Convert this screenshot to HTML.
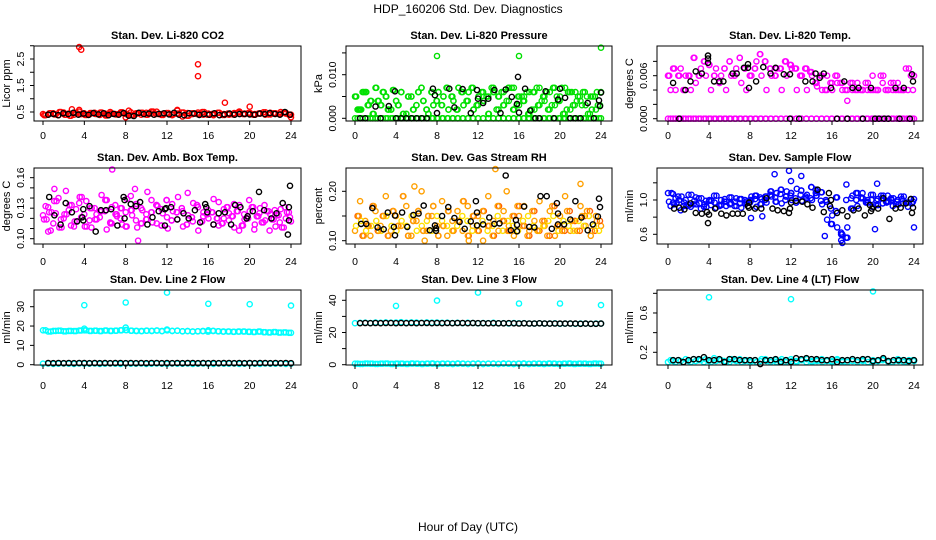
<!DOCTYPE html>
<html><head><meta charset="utf-8">
<style>
body{margin:0;background:#fff;}
svg{display:block;font-family:"Liberation Sans",sans-serif;}
</style></head>
<body>
<svg id="chart" width="936" height="540" viewBox="0 0 936 540">
<rect width="936" height="540" fill="#fff"/>
<text x="468" y="13" text-anchor="middle" font-size="12">HDP_160206  Std. Dev. Diagnostics</text>
<text x="468" y="531" text-anchor="middle" font-size="12">Hour of Day (UTC)</text>
<g id="panels"></g>
</svg>
<script>
// ---- data ----
const hourTicks = [0,4,8,12,16,20,24];
// CO2 (Licor ppm)
const co2Red = [0.42,0.40,0.45,0.38,0.48,0.44,0.40,0.52,0.45,0.41,0.47,0.39,0.44,0.50,0.42,0.46,0.30,0.49,0.43,0.40,0.47,0.44,0.51,0.42,0.45,0.38,0.55,0.33,0.46,0.42,0.48,0.40,0.44,0.38,0.47,0.42,0.40,0.46,0.52,0.44,0.45,0.42,0.45,0.40,0.47,0.43,0.50,0.44,0.30];
const co2Red2 = [0.38,0.45,0.41,0.50,0.40,0.36,0.47,0.42,0.39,0.46,0.43,0.48,0.37,0.44,0.41,0.49,0.42,0.38,0.45,0.47,0.40,0.52,0.43,0.39,0.46,0.41,0.44,0.48,0.36,0.45,0.42,0.50,0.40,0.43,0.47,0.39,0.44,0.41,0.48,0.42,0.46,0.40,0.44,0.49,0.41,0.45,0.43,0.47,0.40];
const co2OutX = [3.5,3.7,15,15,17.6,20,2.8,13,8.3,3.5];
const co2OutY = [2.95,2.85,2.3,1.85,0.85,0.7,0.6,0.58,0.55,0.58];
const co2Blk = [0.40,0.43,0.38,0.45,0.42,0.47,0.40,0.44,0.39,0.46,0.41,0.45,0.38,0.43,0.40,0.46,0.36,0.35,0.47,0.42,0.44,0.40,0.43,0.45,0.41,0.47,0.40,0.38,0.45,0.44,0.39,0.43,0.40,0.45,0.38,0.41,0.44,0.40,0.42,0.43,0.41,0.40,0.44,0.42,0.46,0.43,0.40,0.50,0.40];
// Pressure (kPa)
const presGreen = [0.005,0.002,0.006,0.004,0.007,0.003,0.005,0.002,0.004,0.006,0.001,0.005,0.003,0.007,0.002,0.006,0.004,0.003,0.007,0.005,0.002,0.006,0.004,0.007,0.003,0.006,0.005,0.007,0.002,0.006,0.004,0.007,0.003,0.005,0.006,0.002,0.007,0.004,0.006,0.003,0.005,0.007,0.002,0.006,0.004,0.003,0.005,0.002,0.006];
const presGreen2 = [0.002,0.006,0.003,0.001,0.004,0.006,0.002,0.0065,0.003,0.001,0.005,0.002,0.006,0.004,0.001,0.003,0.006,0.005,0.002,0.004,0.007,0.003,0.006,0.002,0.005,0.004,0.001,0.006,0.005,0.003,0.007,0.002,0.005,0.004,0.001,0.006,0.003,0.005,0.002,0.007,0.004,0.001,0.006,0.003,0.005,0.006,0.001,0.005,0.003];
const presZero = [0,0,0,0,0,0,0,0,0,0,0,0,0,0,0,0,0,0,0,0,0,0,0,0,0,0,0,0,0,0,0,0,0,0,0,0,0,0,0,0,0,0,0,0,0,0,0,0,0];
const presOutX = [8,16,24];
const presOutY = [0.0143,0.0143,0.0162];
const presBlkX = [0.5,1,2,2.5,3.3,3.9,4,4.5,5,5.5,6,6.5,7,7.6,7.8,8,9.2,9.7,10.5,11.3,11.9,12,12.5,13,13.6,14.2,14.7,15.3,15.8,15.9,16,16.6,17.1,17.6,18,18.6,19.4,19.8,20,20.5,21,21.5,22,22.7,23.3,23.8,23.9,24];
const presBlkY = [0,0,0.0027,0,0.0028,0.0062,0,0,0,0,0,0,0,0.0068,0.0053,0.0012,0.0068,0.0025,0.0067,0.0012,0.0065,0.0045,0.0035,0.0045,0.0065,0.0012,0.0066,0.0049,0.0033,0.0095,0.0013,0.0068,0.0018,0,0,0.0062,0,0.0043,0.0068,0.0047,0,0,0,0.0035,0,0.0041,0.0028,0.0059];
// Li-820 Temp (degrees C)
const tempMag = [0.006,0.007,0.006,0.004,0.006,0.0085,0.006,0.008,0.0075,0.006,0.005,0.007,0.008,0.006,0.0085,0.007,0.006,0.007,0.009,0.008,0.007,0.006,0.007,0.008,0.0075,0.007,0.006,0.007,0.0065,0.005,0.006,0.004,0.005,0.006,0.005,0.004,0.005,0.004,0.004,0.005,0.004,0.004,0.006,0.004,0.005,0.004,0.004,0.007,0.006];
const tempMag2 = [0.004,0.004,0.007,0.006,0.004,0.005,0.007,0.006,0.004,0.007,0.006,0.004,0.006,0.007,0.005,0.004,0.006,0.008,0.006,0.004,0.006,0.007,0.004,0.006,0.007,0.004,0.006,0.004,0.006,0.0045,0.004,0.006,0.004,0.005,0.004,0.0025,0.004,0.005,0.004,0.004,0.006,0.004,0.005,0.004,0.004,0.005,0.004,0.004,0.004];
const tempZero = [0,0,0,0,0,0,0,0,0,0,0,0,0,0,0,0,0,0,0,0,0,0,0,0,0,0,0,0,0,0,0,0,0,0,0,0,0,0,0,0,0,0,0,0,0,0,0,0,0];
const tempBlkX = [0.5,1.1,1.7,2.7,2.2,3.3,3.9,3.9,3.9,4.5,5.0,5.4,6.3,6.7,7.4,7.8,7.9,7.8,8.6,9.3,10.0,10.5,11.3,11.9,11.9,12.8,13.4,14.1,14.4,14.8,15.2,15.9,16.5,17.2,17.5,18.0,18.6,19.0,19.8,20.2,20.6,21.1,21.5,22.2,22.6,23.0,23.6,23.9,23.8];
const tempBlkY = [0.005,0,0.004,0.0066,0.0052,0.0063,0.0088,0.0084,0.0078,0.0052,0.0052,0.0052,0.0063,0.0063,0.0071,0.0076,0.0043,0.0071,0.0052,0.0072,0.0063,0.0071,0.0062,0,0.0062,0,0.0052,0.0052,0.0063,0.0057,0.0063,0.0043,0,0.0052,0,0.0043,0.0043,0,0.0043,0,0,0,0,0.0043,0,0.0043,0,0.0052,0.0062];
// Amb box temp
const ambMag = [0.123,0.131,0.115,0.14,0.12,0.128,0.112,0.135,0.124,0.118,0.13,0.121,0.127,0.116,0.133,0.12,0.126,0.142,0.118,0.13,0.124,0.138,0.115,0.129,0.121,0.134,0.119,0.127,0.145,0.117,0.131,0.122,0.128,0.114,0.136,0.12,0.125,0.111,0.133,0.119,0.127,0.114,0.13,0.118,0.124,0.112,0.129,0.12,0.117];
const ambMag2 = [0.132,0.108,0.125,0.119,0.147,0.113,0.129,0.121,0.137,0.111,0.124,0.143,0.109,0.131,0.122,0.114,0.139,0.123,0.111,0.128,0.146,0.116,0.132,0.125,0.11,0.127,0.141,0.112,0.123,0.135,0.108,0.126,0.12,0.139,0.113,0.129,0.118,0.134,0.108,0.124,0.138,0.109,0.125,0.133,0.108,0.128,0.116,0.131,0.121];
const ambMag3 = [0.119,0.126,0.137,0.111,0.124,0.133,0.117,0.141,0.112,0.13,0.119,0.127,0.138,0.115,0.124,0.13,0.112,0.128,0.134,0.115,0.119,0.126,0.133,0.113,0.138,0.118,0.126,0.13,0.114,0.121,0.133,0.117,0.124,0.126,0.12,0.115,0.131,0.122,0.127,0.113,0.12,0.131,0.122,0.116,0.127,0.119,0.123,0.111,0.126];
const ambOutX = [6.7,9.2,1.1,8.9,0.5];
const ambOutY = [0.168,0.098,0.149,0.149,0.107];
const ambBlkX = [0.6,1.1,1.7,2.2,2.8,3.3,3.8,3.9,3.9,4.5,5.1,5.6,6.1,6.6,7.2,7.8,7.9,7.9,8.5,9.0,9.4,10.1,10.6,11.2,11.8,11.8,11.9,12.4,13.0,13.6,14.1,14.7,15.2,15.7,15.8,15.9,16.5,17.0,17.6,18.2,18.6,19.1,19.7,19.8,20.3,20.9,21.4,22.1,22.6,23.2,23.7,23.8,23.8,23.9];
const ambBlkY = [0.141,0.123,0.114,0.135,0.126,0.117,0.121,0.118,0.129,0.132,0.107,0.128,0.128,0.129,0.113,0.141,0.138,0.12,0.134,0.132,0.136,0.114,0.121,0.127,0.113,0.129,0.13,0.131,0.119,0.125,0.12,0.128,0.116,0.134,0.131,0.126,0.114,0.125,0.126,0.114,0.133,0.131,0.12,0.122,0.127,0.146,0.128,0.12,0.125,0.135,0.104,0.131,0.118,0.152];
// Gas stream RH
const rhOrg = [0.12,0.18,0.14,0.11,0.16,0.13,0.19,0.12,0.15,0.13,0.17,0.11,0.14,0.2,0.12,0.15,0.13,0.18,0.11,0.14,0.16,0.12,0.17,0.13,0.15,0.1,0.19,0.14,0.12,0.16,0.13,0.11,0.15,0.17,0.12,0.14,0.18,0.13,0.16,0.11,0.15,0.19,0.12,0.14,0.17,0.13,0.11,0.15,0.13];
const rhOrg2 = [0.15,0.11,0.13,0.17,0.12,0.15,0.11,0.16,0.13,0.19,0.11,0.14,0.16,0.12,0.15,0.17,0.11,0.13,0.16,0.12,0.14,0.18,0.11,0.15,0.12,0.16,0.13,0.11,0.17,0.14,0.12,0.15,0.17,0.13,0.11,0.16,0.12,0.14,0.11,0.17,0.13,0.12,0.16,0.14,0.12,0.15,0.16,0.12,0.14];
const rhOrg3 = [0.13,0.14,0.12,0.13,0.14,0.12,0.15,0.13,0.12,0.14,0.13,0.15,0.12,0.13,0.14,0.12,0.15,0.14,0.13,0.12,0.13,0.15,0.14,0.12,0.13,0.14,0.12,0.13,0.15,0.12,0.14,0.13,0.12,0.14,0.15,0.13,0.12,0.13,0.14,0.15,0.12,0.14,0.13,0.12,0.14,0.13,0.15,0.13,0.12];
const rhOutX = [13.7,5.8,22,11.1,6.8,14.8];
const rhOutY = [0.245,0.21,0.215,0.1,0.1,0.2];
const rhBlkX = [0.6,1.1,1.7,2.2,2.8,3.2,3.8,3.9,3.9,4.6,5.1,5.7,6.2,6.7,7.3,7.8,7.9,7.9,8.5,9.1,9.7,10.2,10.7,11.3,11.8,11.9,11.9,12.5,13.1,13.6,14.1,14.7,15.2,15.7,15.8,15.8,16.5,17.0,17.5,18.1,18.7,19.2,19.7,19.8,19.8,20.4,21.0,21.5,22.1,22.7,23.2,23.7,23.8,23.9];
const rhBlkY = [0.134,0.134,0.166,0.127,0.123,0.157,0.128,0.151,0.111,0.157,0.128,0.152,0.155,0.171,0.121,0.131,0.125,0.12,0.15,0.168,0.146,0.138,0.124,0.139,0.18,0.157,0.131,0.133,0.147,0.134,0.135,0.232,0.121,0.142,0.119,0.132,0.169,0.128,0.127,0.19,0.19,0.124,0.176,0.155,0.133,0.133,0.143,0.18,0.147,0.121,0.133,0.149,0.185,0.168];
// Sample flow
const flowBlue = [1.08,0.97,1.04,0.93,1.06,0.95,1.02,0.92,0.99,1.05,0.94,0.98,1.03,0.93,1.01,0.96,1.0,1.05,0.95,1.04,1.1,0.98,1.12,1.04,1.08,0.97,1.11,1.02,1.15,1.05,1.09,0.98,0.72,1.03,0.6,0.56,0.9,1.08,1.02,0.97,1.06,0.94,1.05,0.98,1.02,0.95,1.04,0.97,1.01];
const flowBlue2 = [0.93,1.02,0.88,1.0,0.92,1.03,0.9,0.99,0.94,0.91,1.0,0.93,0.96,1.02,0.91,0.98,1.04,0.92,1.01,0.97,1.04,1.08,0.96,1.1,1.0,1.13,0.99,1.06,1.0,1.1,0.95,0.77,0.82,0.68,0.5,0.68,1.05,0.93,1.08,1.0,0.92,1.01,0.96,1.05,0.93,1.0,0.96,0.92,0.98];
const flowBlue3 = [0.98,0.95,1.0,0.97,0.94,0.99,0.96,0.95,1.0,0.97,0.93,1.01,0.95,0.98,0.96,1.0,0.97,1.01,1.03,1.0,1.06,1.03,1.07,1.0,1.05,1.02,1.06,1.04,1.02,1.08,0.99,1.0,0.9,0.87,0.62,1.0,1.02,1.0,1.03,0.98,1.0,0.99,1.02,0.97,1.0,0.98,1.01,0.97,0.96];
const flowOutX = [0.5,11.8,10.4,12.0,13.0,14.4,16.9,17.4,20.4,24,8.1,9.2,20.2,15.3];
const flowOutY = [1.07,1.34,1.3,1.22,1.28,1.12,0.53,1.18,1.19,0.68,0.79,0.81,0.66,0.58];
const flowBlkX = [0.6,1.1,1.6,2.2,2.7,3.3,3.8,3.9,4.0,4.6,5.2,5.7,6.3,6.8,7.3,7.8,7.9,7.9,8.5,9.1,9.6,10.2,10.7,11.3,11.8,11.9,12.0,12.5,13.1,13.6,14.1,14.6,15.2,15.7,15.8,15.9,16.5,17.0,17.5,18.1,18.6,19.2,19.7,19.8,19.9,20.5,21.0,21.6,22.2,22.7,23.2,23.7,23.8,23.9];
const flowBlkY = [0.9,0.91,0.89,0.96,0.85,0.84,0.86,0.73,0.83,0.9,0.84,0.82,0.84,0.84,0.84,0.93,0.91,0.97,0.9,0.9,1.02,0.9,0.88,0.87,0.85,0.9,0.97,0.99,0.98,0.95,0.91,1.12,0.86,1.08,0.93,1.0,0.85,0.88,0.81,0.88,0.9,0.82,0.94,0.87,0.9,0.9,1.02,0.78,0.9,0.91,0.96,1.01,0.85,0.91];
// Line 2 flow
const l2Cyan = [17.8,17.2,17.5,17.6,17.3,17.5,17.4,17.7,17.8,17.5,17.6,17.4,17.7,17.5,17.6,17.8,17.9,17.6,17.5,17.4,17.6,17.5,17.7,17.4,17.8,17.5,17.6,17.3,17.4,17.2,17.3,17.4,17.2,17.5,17.3,17.1,17.2,17.0,17.1,17.2,17.0,16.9,17.1,16.8,16.7,16.9,16.6,16.7,16.5];
const l2Zero = [0.5,0.6,0.4,0.5,0.6,0.5,0.4,0.6,0.5,0.5,0.6,0.4,0.5,0.6,0.5,0.4,0.6,0.5,0.5,0.6,0.4,0.5,0.6,0.5,0.4,0.6,0.5,0.5,0.6,0.4,0.5,0.6,0.5,0.4,0.6,0.5,0.5,0.6,0.4,0.5,0.6,0.5,0.4,0.6,0.5,0.5,0.6,0.4,0.5];
const l2OutX = [4,8,12,16,20,24,4,8,12,16];
const l2OutY = [30.8,32.2,37.3,31.5,31.3,30.6,18.6,19.2,18.2,17.8];
const l2Blk = [0.9,0.8,0.9,0.8,0.9,0.8,0.9,0.9,0.8,0.9,0.8,0.9,0.8,0.9,0.9,0.8,0.9,0.8,0.9,0.8,0.9,0.9,0.8,0.9,0.8,0.9,0.8,0.9,0.9,0.8,0.9,0.8,0.9,0.8,0.9,0.9,0.8,0.9,0.8,0.9,0.8,0.9,0.9,0.8,0.9,0.8,0.9,0.8];
// Line 3 flow
const l3Cyan = [25.8,26.0,26.1,25.9,26.2,26.0,26.3,26.1,26.2,26.4,26.1,26.3,26.2,26.0,26.3,26.1,26.2,26.0,26.1,25.9,26.0,25.8,26.0,25.9,25.7,25.9,25.8,26.0,25.7,25.8,25.6,25.9,25.7,25.8,25.6,25.5,25.7,25.6,25.5,25.7,25.4,25.6,25.5,25.4,25.6,25.5,25.4,25.6,25.5];
const l3Zero = [0.6,0.5,0.7,0.6,0.5,0.6,0.7,0.5,0.6,0.6,0.5,0.7,0.6,0.5,0.6,0.7,0.5,0.6,0.6,0.5,0.7,0.6,0.5,0.6,0.7,0.5,0.6,0.6,0.5,0.7,0.6,0.5,0.6,0.7,0.5,0.6,0.6,0.5,0.7,0.6,0.5,0.6,0.7,0.5,0.6,0.6,0.5,0.7,0.6];
const l3OutX = [4,8,12,16,20,24];
const l3OutY = [36.5,39.8,44.8,38.0,38.0,37.0];
const l3Blk = [25.8,25.9,25.8,25.9,25.8,25.9,25.9,25.8,25.9,25.8,25.9,25.8,25.9,25.9,25.8,25.9,25.8,25.9,25.8,25.9,25.9,25.8,25.9,25.8,25.8,25.7,25.8,25.7,25.7,25.8,25.7,25.6,25.7,25.6,25.6,25.7,25.6,25.5,25.6,25.5,25.5,25.6,25.5,25.4,25.5,25.4,25.4,25.5];
// Line 4 flow
const l4Cyan = [0.1,0.11,0.12,0.1,0.11,0.13,0.12,0.1,0.11,0.14,0.12,0.11,0.1,0.12,0.13,0.11,0.1,0.12,0.11,0.13,0.1,0.12,0.11,0.1,0.13,0.11,0.12,0.1,0.11,0.12,0.13,0.11,0.1,0.12,0.11,0.1,0.13,0.12,0.11,0.1,0.12,0.11,0.13,0.1,0.12,0.11,0.1,0.12,0.11];
const l4Cyan2 = [0.12,0.1,0.11,0.13,0.1,0.11,0.12,0.13,0.1,0.11,0.12,0.1,0.13,0.11,0.1,0.12,0.11,0.1,0.13,0.11,0.12,0.1,0.13,0.12,0.11,0.1,0.12,0.13,0.1,0.11,0.1,0.12,0.11,0.13,0.1,0.12,0.11,0.1,0.12,0.13,0.1,0.11,0.12,0.11,0.1,0.13,0.12,0.1,0.12];
const l4OutX = [4,12,20];
const l4OutY = [0.76,0.74,0.82];
const l4Blk = [0.12,0.12,0.1,0.12,0.13,0.13,0.15,0.12,0.12,0.13,0.1,0.13,0.13,0.12,0.12,0.12,0.12,0.08,0.12,0.12,0.13,0.1,0.12,0.1,0.14,0.13,0.14,0.13,0.13,0.12,0.12,0.13,0.1,0.12,0.12,0.13,0.12,0.13,0.13,0.11,0.12,0.14,0.11,0.12,0.12,0.12,0.11,0.12];

// ---- layout / styles (not data) ----
const BLUE='#0000ff', RED='#ff0000', BLK='#000000', GRN='#00e000', MAG='#ff00ff', CYN='#00ffff', ORG='#ffa000', ORG2='#ff6000', YEL='#ffe000';
function gridX(arr, x0, x1){ // hours for a regularly sampled series
  const n = arr.length; return arr.map((_, i) => x0 + (x1 - x0) * i / (n - 1));
}
const panels = [
 {name:'co2', title:'Stan. Dev. Li-820 CO2', ytitle:'Licor ppm', box:[34,46,301,121], xr:[43,291], vRef:0.5, yRef:112, ppu:26.5,
  ticks:[0.5,1,1.5,2,2.5,3], labels:[0.5,1.5,2.5], fmt:v=>v.toFixed(1), lblY:139,
  series:[{x:gridX(co2Red,0,24),y:co2Red,c:RED},{x:gridX(co2Red2,0.25,24),y:co2Red2,c:RED},{x:gridX(co2Red2,0.12,23.8),y:co2Red2,c:RED},{x:co2OutX,y:co2OutY,c:RED},{x:gridX(co2Blk,0.5,23.9),y:co2Blk,c:BLK}]},
 {name:'pressure', title:'Stan. Dev. Li-820 Pressure', ytitle:'kPa', box:[346,46,612,121], xr:[355,601], vRef:0, yRef:118.3, ppu:4360,
  ticks:[0,0.005,0.01,0.015], labels:[0,0.01], fmt:v=>v.toFixed(3), lblY:139,
  series:[{x:gridX(presZero,0,24),y:presZero,c:GRN},{x:gridX(presZero,0.25,23.8),y:presZero,c:GRN},{x:gridX(presGreen,0,24),y:presGreen,c:GRN},{x:gridX(presGreen2,0.25,23.9),y:presGreen2,c:GRN},{x:gridX(presGreen,0.37,23.7),y:presGreen2,c:GRN},{x:gridX(presGreen2,0.12,23.6),y:presGreen,c:GRN},{x:presOutX,y:presOutY,c:GRN},{x:presBlkX,y:presBlkY,c:BLK}]},
 {name:'li820-temp', title:'Stan. Dev. Li-820 Temp.', ytitle:'degrees C', box:[657,46,923,121], xr:[668,914], vRef:0, yRef:118.7, ppu:7167,
  ticks:[0,0.002,0.004,0.006,0.008], labels:[0,0.006], fmt:v=>v.toFixed(3), lblY:139,
  series:[{x:gridX(tempZero,0,24),y:tempZero,c:MAG},{x:gridX(tempZero,0.25,23.8),y:tempZero,c:MAG},{x:gridX(tempMag,0,24),y:tempMag,c:MAG},{x:gridX(tempMag2,0.25,23.9),y:tempMag2,c:MAG},{x:gridX(tempMag2,0.12,23.7),y:tempMag,c:MAG},{x:tempBlkX,y:tempBlkY,c:BLK}]},
 {name:'amb-box-temp', title:'Stan. Dev. Amb. Box Temp.', ytitle:'degrees C', box:[34,168,301,244], xr:[43,291], vRef:0.10, yRef:238.7, ppu:1017,
  ticks:[0.10,0.11,0.12,0.13,0.14,0.15,0.16], labels:[0.10,0.13,0.16], fmt:v=>v.toFixed(2), lblY:265,
  series:[{x:gridX(ambMag,0,24),y:ambMag,c:MAG},{x:gridX(ambMag2,0.25,23.9),y:ambMag2,c:MAG},{x:gridX(ambMag3,0.1,23.8),y:ambMag3,c:MAG},{x:gridX(ambMag,0.35,23.6),y:ambMag3,c:MAG},{x:ambOutX,y:ambOutY,c:MAG},{x:ambBlkX,y:ambBlkY,c:BLK}]},
 {name:'gas-stream-rh', title:'Stan. Dev. Gas Stream RH', ytitle:'percent', box:[346,168,612,244], xr:[355,601], vRef:0.10, yRef:240.7, ppu:494,
  ticks:[0.10,0.15,0.20], labels:[0.10,0.20], fmt:v=>v.toFixed(2), lblY:265,
  series:[{x:gridX(rhOrg,0,24),y:rhOrg,c:ORG},{x:gridX(rhOrg2,0.25,23.9),y:rhOrg2,c:ORG2},{x:gridX(rhOrg3,0.1,23.8),y:rhOrg3,c:YEL},{x:gridX(rhOrg3,0.37,23.6),y:rhOrg2,c:ORG},{x:rhOutX,y:rhOutY,c:ORG},{x:rhBlkX,y:rhBlkY,c:BLK}]},
 {name:'sample-flow', title:'Stan. Dev. Sample Flow', ytitle:'ml/min', box:[657,168,923,244], xr:[668,914], vRef:0.6, yRef:234.3, ppu:85.8,
  ticks:[0.6,0.8,1.0,1.2], labels:[0.6,1.0], fmt:v=>v.toFixed(1), lblY:265,
  series:[{x:gridX(flowBlue,0,24),y:flowBlue,c:BLUE},{x:gridX(flowBlue2,0.25,23.9),y:flowBlue2,c:BLUE},{x:gridX(flowBlue3,0.1,23.8),y:flowBlue3,c:BLUE},{x:gridX(flowBlue3,0.35,23.7),y:flowBlue,c:BLUE},{x:flowOutX,y:flowOutY,c:BLUE},{x:flowBlkX,y:flowBlkY,c:BLK}]},
 {name:'line2-flow', title:'Stan. Dev. Line 2 Flow', ytitle:'ml/min', box:[34,290,301,365], xr:[43,291], vRef:0, yRef:364.7, ppu:1.933,
  ticks:[0,10,20,30], labels:[0,10,20,30], fmt:v=>String(v), lblY:389,
  series:[{x:gridX(l2Cyan,0,24),y:l2Cyan,c:CYN},{x:gridX(l2Cyan,0.25,23.8),y:l2Cyan,c:CYN},{x:gridX(l2Zero,0,24),y:l2Zero,c:CYN},{x:l2OutX,y:l2OutY,c:CYN},{x:gridX(l2Blk,0.5,24),y:l2Blk,c:BLK}]},
 {name:'line3-flow', title:'Stan. Dev. Line 3 Flow', ytitle:'ml/min', box:[346,290,612,365], xr:[355,601], vRef:0, yRef:364.7, ppu:1.61,
  ticks:[0,10,20,30,40], labels:[0,20,40], fmt:v=>String(v), lblY:389,
  series:[{x:gridX(l3Cyan,0,24),y:l3Cyan,c:CYN},{x:gridX(l3Zero,0,24),y:l3Zero,c:CYN},{x:gridX(l3Zero,0.25,23.8),y:l3Zero,c:CYN},{x:l3OutX,y:l3OutY,c:CYN},{x:gridX(l3Blk,0.5,24),y:l3Blk,c:BLK}]},
 {name:'line4-flow', title:'Stan. Dev. Line 4 (LT) Flow', ytitle:'ml/min', box:[657,290,923,365], xr:[668,914], vRef:0.2, yRef:352.3, ppu:98.3,
  ticks:[0.2,0.4,0.6,0.8], labels:[0.2,0.6], fmt:v=>v.toFixed(1), lblY:389,
  series:[{x:gridX(l4Cyan,0,24),y:l4Cyan,c:CYN},{x:gridX(l4Cyan2,0.25,23.9),y:l4Cyan2,c:CYN},{x:l4OutX,y:l4OutY,c:CYN},{x:gridX(l4Blk,0.5,24),y:l4Blk,c:BLK}]}
];

const NS='http://www.w3.org/2000/svg';
const root=document.getElementById('panels');
function mk(tag, attrs, parent){
  const e=document.createElementNS(NS,tag);
  for(const k in attrs) e.setAttribute(k, attrs[k]);
  parent.appendChild(e); return e;
}
panels.forEach(p=>{
  const g=mk('g',{},root);
  
  
  const [L,T,R,B]=p.box;
  const xs=h=>p.xr[0]+(p.xr[1]-p.xr[0])*h/24;
  const ys=v=>p.yRef-(v-p.vRef)*p.ppu;
  const t=mk('text',{x:(L+R)/2,y:T-7,'text-anchor':'middle','font-size':'11','font-weight':'bold'},g);
  t.textContent=p.title;
  
  
  const pts=mk('g',{fill:'none','stroke-width':'1.4'},g);
  
  
  p.series.forEach(s=>{
    s.y.forEach((v,i)=>{
      if(v===null||s.x[i]===undefined) return;
      const c=mk('circle',{cx:xs(s.x[i]).toFixed(1),cy:ys(v).toFixed(1),r:'2.6',stroke:s.c},pts);
      
      
    });
  });
  const box=mk('rect',{x:L,y:T,width:R-L,height:B-T,fill:'none',stroke:'#000','stroke-width':'1'},g);
  
  
  const xa=mk('g',{},g);
  
  
  hourTicks.forEach(h=>{
    mk('line',{x1:xs(h),x2:xs(h),y1:B,y2:B+4,stroke:'#000'},xa);
    const tl=mk('text',{x:xs(h),y:p.lblY,'text-anchor':'middle','font-size':'10.5'},xa);
    tl.textContent=String(h);
  });
  const ya=mk('g',{},g);
  
  
  p.ticks.forEach(v=>{ mk('line',{x1:L-4,x2:L,y1:ys(v),y2:ys(v),stroke:'#000'},ya); });
  p.labels.forEach(v=>{
    const tx=L-10, ty=ys(v);
    const tl=mk('text',{x:tx,y:ty,'text-anchor':'middle','font-size':'10.5',transform:`rotate(-90 ${tx} ${ty})`},ya);
    tl.textContent=p.fmt(v);
  });
  const yt=mk('text',{x:L-24,y:(T+B)/2,'text-anchor':'middle','font-size':'11',transform:`rotate(-90 ${L-24} ${(T+B)/2})`},g);
  yt.textContent=p.ytitle;
  
  
});
</script>
</body></html>
